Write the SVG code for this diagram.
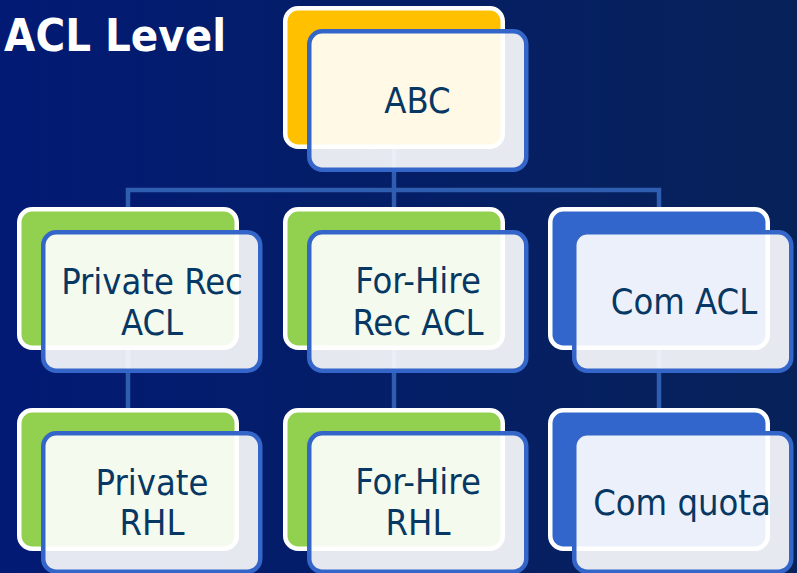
<svg xmlns="http://www.w3.org/2000/svg" width="797" height="573" viewBox="0 0 797 573">
<defs>
<linearGradient id="bg" x1="0" y1="0" x2="1" y2="0">
<stop offset="0" stop-color="#021A74"/>
<stop offset="1" stop-color="#072259"/>
</linearGradient>
<style>
.back{stroke:#FFFFFF;stroke-width:4.5}
.yellow{fill:#FFC000}
.green{fill:#92D050}
.blue{fill:#3366CC}
.front{fill:#FFFFFF;fill-opacity:0.9;stroke:#3466C9;stroke-width:4.5}
.lbl{font-family:"DejaVu Sans Condensed","DejaVu Sans",sans-serif;font-stretch:condensed;font-size:36px;fill:#073763;text-anchor:middle}
.title{font-family:"DejaVu Sans Condensed","DejaVu Sans",sans-serif;font-stretch:condensed;font-weight:bold;font-size:45px;fill:#FFFFFF;text-anchor:end}
.conn{fill:none;stroke:#2F5DB0;stroke-width:4.5}
</style>
</defs>
<rect width="797" height="573" fill="url(#bg)"/>
<text class="title" x="226" y="51">ACL Level</text>
<g id="connectors">
<path class="conn" d="M394,149 V190"/>
<path class="conn" d="M128,408 V190 H659 V408"/>
<path class="conn" d="M394,190 V408"/>
</g>
<g id="node-abc" transform="translate(283,6)">
<rect class="back yellow" x="2.25" y="2.25" width="217.5" height="138.5" rx="13"/>
<rect class="front" x="26.25" y="25.25" width="217" height="138.5" rx="13"/>
<text class="lbl" x="134.5" y="107">ABC</text>
</g>
<g id="node-private-rec-acl" transform="translate(17,207)">
<rect class="back green" x="2.25" y="2.25" width="217.5" height="138.5" rx="13"/>
<rect class="front" x="26.25" y="25.25" width="217" height="138.5" rx="13"/>
<text class="lbl" x="135" y="87">Private Rec</text>
<text class="lbl" x="135" y="128">ACL</text>
</g>
<g id="node-forhire-rec-acl" transform="translate(283,207)">
<rect class="back green" x="2.25" y="2.25" width="217.5" height="138.5" rx="13"/>
<rect class="front" x="26.25" y="25.25" width="217" height="138.5" rx="13"/>
<text class="lbl" x="135" y="86">For-Hire</text>
<text class="lbl" x="135" y="128">Rec ACL</text>
</g>
<g id="node-com-acl" transform="translate(548,207)">
<rect class="back blue" x="2.25" y="2.25" width="217.5" height="138.5" rx="13"/>
<rect class="front" x="26.25" y="25.25" width="217" height="138.5" rx="13"/>
<text class="lbl" x="136" y="107">Com ACL</text>
</g>
<g id="node-private-rhl" transform="translate(17,408)">
<rect class="back green" x="2.25" y="2.25" width="217.5" height="138.5" rx="13"/>
<rect class="front" x="26.25" y="25.25" width="217" height="138.5" rx="13"/>
<text class="lbl" x="135" y="87">Private</text>
<text class="lbl" x="135" y="127">RHL</text>
</g>
<g id="node-forhire-rhl" transform="translate(283,408)">
<rect class="back green" x="2.25" y="2.25" width="217.5" height="138.5" rx="13"/>
<rect class="front" x="26.25" y="25.25" width="217" height="138.5" rx="13"/>
<text class="lbl" x="135" y="86">For-Hire</text>
<text class="lbl" x="135" y="127">RHL</text>
</g>
<g id="node-com-quota" transform="translate(548,408)">
<rect class="back blue" x="2.25" y="2.25" width="217.5" height="138.5" rx="13"/>
<rect class="front" x="26.25" y="25.25" width="217" height="138.5" rx="13"/>
<text class="lbl" x="134" y="107">Com quota</text>
</g>
</svg>
